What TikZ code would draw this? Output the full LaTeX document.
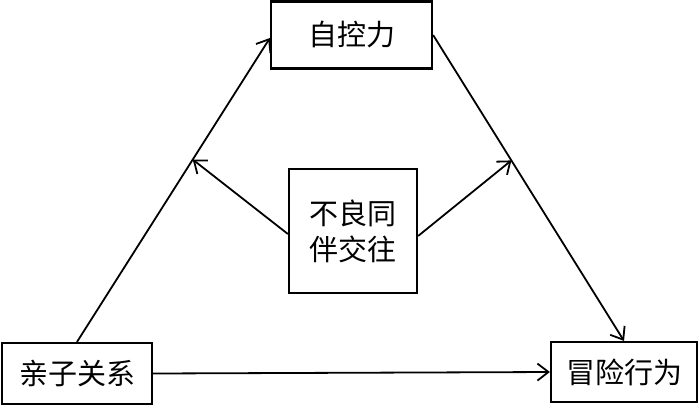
\documentclass[tikz,border=0pt]{standalone}
\usepackage{fontspec}
\usepackage{tikz}
\usetikzlibrary{arrows.meta}
\newfontfamily\cjk{Noto Sans CJK SC}

\begin{document}
\begin{tikzpicture}[x=1pt,y=-1pt,line width=1.8pt,
  varbox/.style={draw,line width=2.2pt,inner sep=0pt,font=\cjk\fontsize{29}{36}\selectfont,align=center},
  path arrow/.style={-{Straight Barb[length=11pt,width=17pt,line width=1.8pt]}}]
\useasboundingbox (0,0) rectangle (700,405);
\node[varbox,minimum width=161pt,minimum height=67pt] (zkl) at (351.5,35){自控力};
\node[varbox,minimum width=150pt,minimum height=61pt] (qzgx) at (77,373.5){亲子关系};
\node[varbox,minimum width=146pt,minimum height=60pt] (mxxw) at (624,372){冒险行为};
\node[varbox,minimum width=128pt,minimum height=124pt] (blth) at (353,231){不良同\\伴交往};
\draw[path arrow] (qzgx.north) -- coordinate[pos=0.6] (ml) ([yshift=-3pt]zkl.west);
\draw[path arrow] (zkl.east) -- coordinate[pos=0.41] (mr) (mxxw.north);
\draw[path arrow] (qzgx.east) -- (mxxw.west);
\draw[path arrow] ([yshift=-3pt]blth.west) -- (ml);
\draw[path arrow] ([yshift=-5pt]blth.east) -- (mr);
\end{tikzpicture}
\end{document}
